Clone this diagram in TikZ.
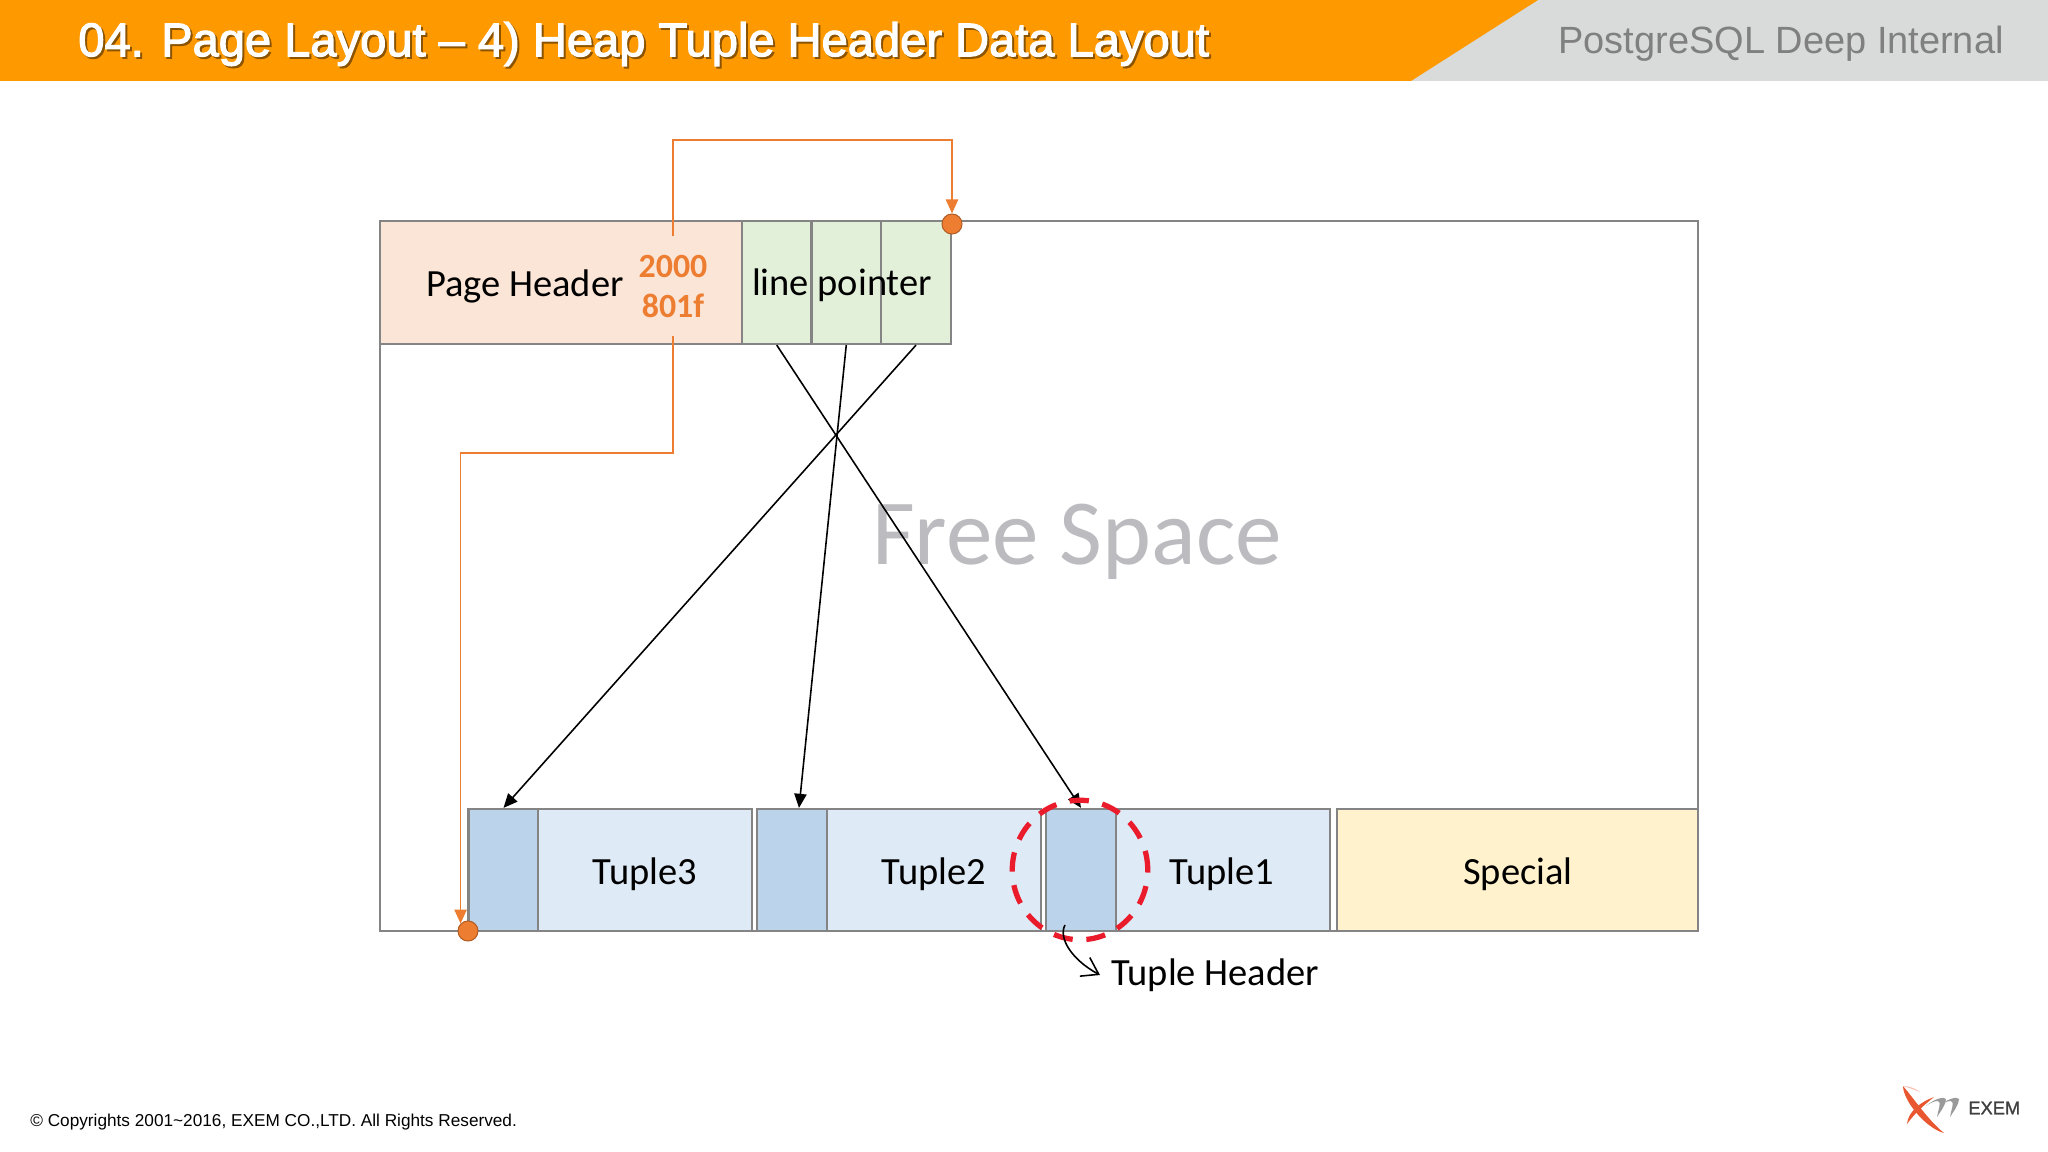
\documentclass[tikz,border=0pt]{standalone}
\usepackage{fontspec}
\setmainfont{Carlito}
\newfontfamily\arialfont{Liberation Sans}
\newfontfamily\titlefont[FakeBold=2.5]{Liberation Sans}
\newfontfamily\logofont[FakeBold=1.2]{Liberation Sans}
\usepackage{xcolor}
\usetikzlibrary{arrows.meta,shapes.geometric}
\definecolor{barorange}{HTML}{FF9900}
\definecolor{bargray}{HTML}{D9DADA}
\definecolor{linkorange}{HTML}{ED7D31}
\definecolor{framegray}{HTML}{848484}
\definecolor{headerpeach}{HTML}{FBE5D6}
\definecolor{pointergreen}{HTML}{E2F0D9}
\definecolor{tuplefill}{HTML}{DEEAF6}
\definecolor{tupleheadfill}{HTML}{BBD4EC}
\definecolor{specialfill}{HTML}{FFF2CC}
\definecolor{ringred}{HTML}{EA1C2C}
\definecolor{freegray}{HTML}{BCBCC0}
\definecolor{logored}{HTML}{E8572F}
\definecolor{logogray}{HTML}{9A9A9A}
\begin{document}
\begin{tikzpicture}[x=0.02cm,y=0.02cm]
\tikzstyle{every node}+=[inner sep=0pt]
\tikzstyle{cell}=[draw=framegray,line width=1.3pt,rectangle,anchor=center]
\tikzstyle{rowcell}=[cell,minimum height=2.44cm]
\tikzstyle{topcell}=[cell,minimum height=2.46cm]
\tikzstyle{pointercell}=[topcell,fill=pointergreen]
\tikzstyle{tuplebody}=[rowcell,fill=tuplefill,minimum width=4.28cm]
\tikzstyle{tuplehead}=[rowcell,fill=tupleheadfill,minimum width=1.4cm]
\tikzstyle{label}=[font=\fontsize{21.9}{22}\selectfont,text=black]
\tikzstyle{offsetval}=[font=\fontsize{19.3}{20}\selectfont\bfseries,text=linkorange,minimum height=1.2cm]
\tikzstyle{dot}=[circle,fill=linkorange,draw=linkorange!75!black,line width=0.6pt,minimum size=0.4cm]
\tikzstyle{link}=[draw=linkorange,line width=1pt,-{Triangle[length=8pt,width=7pt]}]
\tikzstyle{pointerarrow}=[black,line width=0.9pt,-{Triangle[length=8pt,width=7pt]}]
\tikzstyle{titlefontstyle}=[font=\titlefont\fontsize{26.8}{28}\selectfont,anchor=west]
\useasboundingbox (0,0) rectangle (2048,-1152);
\fill [white] (0,0) rectangle (2048,-1152);
\fill [bargray] (1400,0) rectangle (2048,-81);
\fill [barorange] (0,0) -- (1538,0) -- (1411,-81) -- (0,-81) -- cycle;
\node [titlefontstyle,text=barorange!55!black] (titleShade) at (80,-46) {04. Page Layout – 4) Heap Tuple Header Data Layout};
\node [titlefontstyle,text=white] (titleText) at (78,-44) {04. Page Layout – 4) Heap Tuple Header Data Layout};
\node [font=\arialfont\fontsize{21.6}{22}\selectfont,text=black!50,anchor=east] (courseText) at (2004,-44) {PostgreSQL Deep Internal};
\node [cell,fill=white,minimum width=26.36cm,minimum height=14.2cm] (pageFrame) at (1039,-576) {};
\node [topcell,fill=headerpeach,minimum width=7.24cm] (pageHeader) at (561,-282.5) {};
\node [pointercell,minimum width=1.39cm] (pointerOne) at (776.75,-282.5) {};
\node [pointercell,minimum width=1.39cm] (pointerTwo) at (846.25,-282.5) {};
\node [pointercell,minimum width=1.4cm] (pointerThree) at (916,-282.5) {};
\node [label] (headerText) at (525,-286) {Page Header};
\node [label] (pointerText) at (842,-285) {line pointer};
\node [offsetval] (valUpper) at (673,-266) {2000};
\node [offsetval] (valLower) at (673,-306) {801f};
\node [tuplehead] (headThree) at (503.5,-870) {};
\node [tuplebody] (bodyThree) at (645,-870) {};
\node [tuplehead] (headTwo) at (792,-870) {};
\node [tuplebody] (bodyTwo) at (934,-870) {};
\node [tuplehead] (headOne) at (1081,-870) {};
\node [tuplebody] (bodyOne) at (1223,-870) {};
\node [rowcell,fill=specialfill,minimum width=7.22cm] (specialArea) at (1517.5,-870) {};
\node [label] at (645,-874) (tupleThreeText) {Tuple3};
\node [label] at (934,-874) (tupleTwoText) {Tuple2};
\node [label] at (1222,-874) (tupleOneText) {Tuple1};
\node [label] at (1518,-874) (specialText) {Special};
\node [font=\fontsize{53}{53}\selectfont,text=freegray] (freeText) at (1077,-542) {Free Space};
\node [dot] (dotUpper) at (952,-224) {};
\node [dot] (dotLower) at (468,-931) {};
\coordinate (turnUpper) at (952,-140);
\coordinate (turnLower) at (dotLower.north west |- 0,-453);
\draw [link] (valUpper.north) |- (turnUpper) -- (dotUpper.north);
\draw [link] (valLower.south) |- (turnLower) -- (dotLower.north west);
\draw [pointerarrow] (pointerOne.south) -- (headOne.north);
\draw [pointerarrow] (pointerTwo.south) -- ([xshift=0.14cm]headTwo.north);
\draw [pointerarrow] (pointerThree.south) -- (headThree.north);
\node [ellipse,draw=ringred,line width=3pt,dash pattern=on 11pt off 7.8pt,minimum width=2.71cm,minimum height=2.79cm] (headerRing) at (1080,-870) {};
\node [label,anchor=west] (tupleHeaderText) at (1111,-975) {Tuple Header};
\coordinate (noteStart) at (1065,-925);
\draw [black,line width=0.9pt,-{Straight Barb[length=9pt,width=12pt]}] (noteStart) .. controls (1058,-938) and (1072,-960) .. ([xshift=-0.22cm]tupleHeaderText.west);
\node [font=\arialfont\fontsize{9.8}{10}\selectfont,text=black,anchor=west] (copyText) at (30,-1122) {© Copyrights 2001\textasciitilde 2016, EXEM CO.,LTD. All Rights Reserved.};
\fill [logored] (1903,-1086) .. controls (1903,-1100) and (1925,-1128) .. (1944,-1133) .. controls (1928,-1120) and (1915,-1100) .. (1903,-1086) -- cycle;
\fill [logored!40] (1903,-1086) .. controls (1910,-1086) and (1916,-1089) .. (1920,-1092) .. controls (1915,-1090) and (1910,-1088) .. (1903,-1086) -- cycle;
\fill [logored] (1934,-1097) .. controls (1920,-1102) and (1908,-1112) .. (1907,-1124) .. controls (1914,-1114) and (1924,-1105) .. (1934,-1097) -- cycle;
\fill [logogray] (1926,-1106) .. controls (1934,-1099) and (1944,-1096) .. (1946,-1099) .. controls (1946,-1105) and (1940,-1112) .. (1937,-1117) .. controls (1938,-1110) and (1942,-1102) .. (1938,-1101) .. controls (1934,-1101) and (1930,-1103) .. (1926,-1106) -- cycle;
\fill [logogray,xshift=0.26cm] (1926,-1106) .. controls (1934,-1099) and (1944,-1096) .. (1946,-1099) .. controls (1946,-1105) and (1940,-1112) .. (1937,-1117) .. controls (1938,-1110) and (1942,-1102) .. (1938,-1101) .. controls (1934,-1101) and (1930,-1103) .. (1926,-1106) -- cycle;
\node [font=\logofont\fontsize{10.4}{11}\selectfont,text=black!75,anchor=west] (logoText) at (1968,-1108) {EXEM};
\end{tikzpicture}
\end{document}
